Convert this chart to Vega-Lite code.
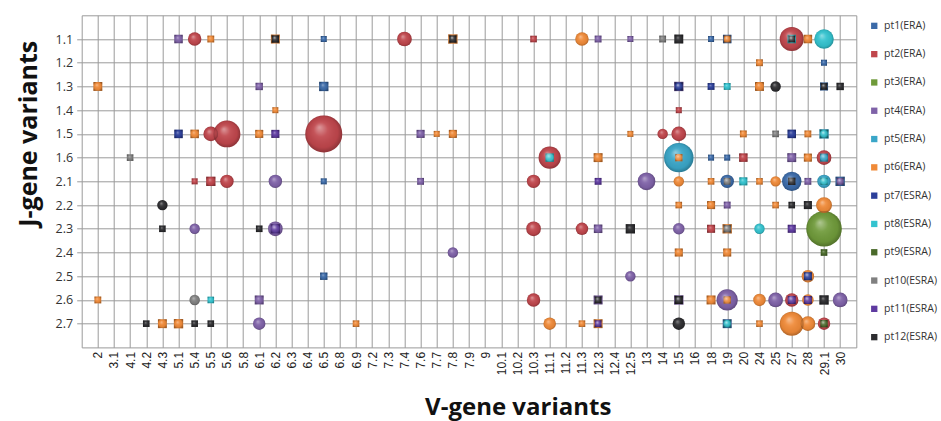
{
  "$schema": "https://vega.github.io/schema/vega-lite/v6.json",
  "width": 774.6,
  "height": 332.1,
  "autosize": {"type": "none"},
  "padding": {"left": 81.7, "top": 15.3, "right": 84.7, "bottom": 73.6},
  "background": "white",
  "config": {
    "view": {"stroke": "#9a9a9a", "strokeWidth": 1},
    "legend": {"title": null}
  },
  "data": {
    "values": [
      {"v":"6.5","j":"1.1","s":"pt1(ERA)","n":1},
      {"v":"6.5","j":"1.3","s":"pt1(ERA)","n":2.4},
      {"v":"6.5","j":"2.1","s":"pt1(ERA)","n":1},
      {"v":"6.5","j":"2.5","s":"pt1(ERA)","n":1.5},
      {"v":"18","j":"1.1","s":"pt1(ERA)","n":1},
      {"v":"19","j":"1.1","s":"pt1(ERA)","n":2},
      {"v":"29.1","j":"1.2","s":"pt1(ERA)","n":1},
      {"v":"29.1","j":"1.3","s":"pt1(ERA)","n":1.8},
      {"v":"18","j":"1.6","s":"pt1(ERA)","n":1},
      {"v":"19","j":"1.6","s":"pt1(ERA)","n":1},
      {"v":"19","j":"2.1","s":"pt1(ERA)","n":5},
      {"v":"27","j":"2.1","s":"pt1(ERA)","n":10.5},
      {"v":"30","j":"2.1","s":"pt1(ERA)","n":2.4},
      {"v":"19","j":"2.7","s":"pt1(ERA)","n":2.2},

      {"v":"5.4","j":"1.1","s":"pt2(ERA)","n":5},
      {"v":"7.4","j":"1.1","s":"pt2(ERA)","n":6},
      {"v":"10.3","j":"1.1","s":"pt2(ERA)","n":1.2},
      {"v":"27","j":"1.1","s":"pt2(ERA)","n":16},
      {"v":"5.5","j":"1.5","s":"pt2(ERA)","n":6},
      {"v":"5.6","j":"1.5","s":"pt2(ERA)","n":20},
      {"v":"6.5","j":"1.5","s":"pt2(ERA)","n":38},
      {"v":"14","j":"1.5","s":"pt2(ERA)","n":3},
      {"v":"15","j":"1.5","s":"pt2(ERA)","n":6},
      {"v":"15","j":"1.4","s":"pt2(ERA)","n":1},
      {"v":"11.1","j":"1.6","s":"pt2(ERA)","n":13.6},
      {"v":"20","j":"1.6","s":"pt2(ERA)","n":2},
      {"v":"29.1","j":"1.6","s":"pt2(ERA)","n":6},
      {"v":"5.4","j":"2.1","s":"pt2(ERA)","n":1},
      {"v":"5.5","j":"2.1","s":"pt2(ERA)","n":2.4},
      {"v":"5.6","j":"2.1","s":"pt2(ERA)","n":5},
      {"v":"10.3","j":"2.1","s":"pt2(ERA)","n":5},
      {"v":"10.3","j":"2.3","s":"pt2(ERA)","n":6},
      {"v":"11.3","j":"2.3","s":"pt2(ERA)","n":4.3},
      {"v":"18","j":"2.3","s":"pt2(ERA)","n":1.8},
      {"v":"10.3","j":"2.6","s":"pt2(ERA)","n":5},
      {"v":"27","j":"2.6","s":"pt2(ERA)","n":5},
      {"v":"29.1","j":"2.7","s":"pt2(ERA)","n":4.3},

      {"v":"29.1","j":"2.3","s":"pt3(ERA)","n":35},

      {"v":"5.1","j":"1.1","s":"pt4(ERA)","n":2},
      {"v":"12.3","j":"1.1","s":"pt4(ERA)","n":1.3},
      {"v":"12.5","j":"1.1","s":"pt4(ERA)","n":1},
      {"v":"6.1","j":"1.3","s":"pt4(ERA)","n":1.5},
      {"v":"15","j":"1.3","s":"pt4(ERA)","n":2.4},
      {"v":"7.6","j":"1.5","s":"pt4(ERA)","n":1.8},
      {"v":"27","j":"1.6","s":"pt4(ERA)","n":2.2},
      {"v":"6.2","j":"2.1","s":"pt4(ERA)","n":5},
      {"v":"7.6","j":"2.1","s":"pt4(ERA)","n":1.3},
      {"v":"13","j":"2.1","s":"pt4(ERA)","n":8.7},
      {"v":"28","j":"2.1","s":"pt4(ERA)","n":1.3},
      {"v":"30","j":"2.1","s":"pt4(ERA)","n":1.3},
      {"v":"19","j":"2.2","s":"pt4(ERA)","n":1.3},
      {"v":"5.4","j":"2.3","s":"pt4(ERA)","n":3},
      {"v":"6.2","j":"2.3","s":"pt4(ERA)","n":6},
      {"v":"12.3","j":"2.3","s":"pt4(ERA)","n":2},
      {"v":"15","j":"2.3","s":"pt4(ERA)","n":3.7},
      {"v":"7.8","j":"2.4","s":"pt4(ERA)","n":3},
      {"v":"12.5","j":"2.5","s":"pt4(ERA)","n":3},
      {"v":"6.1","j":"2.6","s":"pt4(ERA)","n":2.2},
      {"v":"12.3","j":"2.6","s":"pt4(ERA)","n":2.2},
      {"v":"15","j":"2.6","s":"pt4(ERA)","n":2.4},
      {"v":"19","j":"2.6","s":"pt4(ERA)","n":12.5},
      {"v":"25","j":"2.6","s":"pt4(ERA)","n":6},
      {"v":"30","j":"2.6","s":"pt4(ERA)","n":6},
      {"v":"6.1","j":"2.7","s":"pt4(ERA)","n":4.3},

      {"v":"15","j":"1.6","s":"pt5(ERA)","n":24},
      {"v":"29.1","j":"2.1","s":"pt5(ERA)","n":5},
      {"v":"29.1","j":"1.5","s":"pt5(ERA)","n":2.4},
      {"v":"29.1","j":"1.6","s":"pt5(ERA)","n":1.8},

      {"v":"5.5","j":"1.1","s":"pt6(ERA)","n":1.3},
      {"v":"6.2","j":"1.1","s":"pt6(ERA)","n":2.2},
      {"v":"7.8","j":"1.1","s":"pt6(ERA)","n":2.4},
      {"v":"11.3","j":"1.1","s":"pt6(ERA)","n":5},
      {"v":"19","j":"1.1","s":"pt6(ERA)","n":1.3},
      {"v":"28","j":"1.1","s":"pt6(ERA)","n":2},
      {"v":"24","j":"1.2","s":"pt6(ERA)","n":1.3},
      {"v":"2","j":"1.3","s":"pt6(ERA)","n":2.2},
      {"v":"24","j":"1.3","s":"pt6(ERA)","n":2.2},
      {"v":"6.2","j":"1.4","s":"pt6(ERA)","n":1},
      {"v":"5.4","j":"1.5","s":"pt6(ERA)","n":2},
      {"v":"6.1","j":"1.5","s":"pt6(ERA)","n":1.8},
      {"v":"7.7","j":"1.5","s":"pt6(ERA)","n":1},
      {"v":"7.8","j":"1.5","s":"pt6(ERA)","n":1.8},
      {"v":"12.5","j":"1.5","s":"pt6(ERA)","n":1},
      {"v":"20","j":"1.5","s":"pt6(ERA)","n":1.3},
      {"v":"28","j":"1.5","s":"pt6(ERA)","n":1.3},
      {"v":"12.3","j":"1.6","s":"pt6(ERA)","n":2.2},
      {"v":"15","j":"1.6","s":"pt6(ERA)","n":1.5},
      {"v":"28","j":"1.6","s":"pt6(ERA)","n":1.8},
      {"v":"15","j":"2.1","s":"pt6(ERA)","n":3},
      {"v":"18","j":"2.1","s":"pt6(ERA)","n":1.2},
      {"v":"24","j":"2.1","s":"pt6(ERA)","n":1.2},
      {"v":"25","j":"2.1","s":"pt6(ERA)","n":3},
      {"v":"15","j":"2.2","s":"pt6(ERA)","n":1.2},
      {"v":"18","j":"2.2","s":"pt6(ERA)","n":1.8},
      {"v":"25","j":"2.2","s":"pt6(ERA)","n":1.2},
      {"v":"29.1","j":"2.2","s":"pt6(ERA)","n":7},
      {"v":"19","j":"2.3","s":"pt6(ERA)","n":2.4},
      {"v":"15","j":"2.4","s":"pt6(ERA)","n":1.8},
      {"v":"19","j":"2.4","s":"pt6(ERA)","n":1.8},
      {"v":"28","j":"2.5","s":"pt6(ERA)","n":4.3},
      {"v":"2","j":"2.6","s":"pt6(ERA)","n":1.3},
      {"v":"18","j":"2.6","s":"pt6(ERA)","n":2.2},
      {"v":"19","j":"2.6","s":"pt6(ERA)","n":1.5},
      {"v":"24","j":"2.6","s":"pt6(ERA)","n":4.3},
      {"v":"28","j":"2.6","s":"pt6(ERA)","n":3.7},
      {"v":"4.3","j":"2.7","s":"pt6(ERA)","n":2.2},
      {"v":"5.1","j":"2.7","s":"pt6(ERA)","n":2.4},
      {"v":"6.9","j":"2.7","s":"pt6(ERA)","n":1.2},
      {"v":"11.1","j":"2.7","s":"pt6(ERA)","n":4.3},
      {"v":"11.3","j":"2.7","s":"pt6(ERA)","n":1.2},
      {"v":"12.3","j":"2.7","s":"pt6(ERA)","n":2.2},
      {"v":"24","j":"2.7","s":"pt6(ERA)","n":1.2},
      {"v":"27","j":"2.7","s":"pt6(ERA)","n":16},
      {"v":"28","j":"2.7","s":"pt6(ERA)","n":6},

      {"v":"5.1","j":"1.5","s":"pt7(ESRA)","n":2},
      {"v":"15","j":"1.3","s":"pt7(ESRA)","n":1.8},
      {"v":"18","j":"1.3","s":"pt7(ESRA)","n":1.3},
      {"v":"27","j":"1.5","s":"pt7(ESRA)","n":2},
      {"v":"28","j":"2.5","s":"pt7(ESRA)","n":1.8},

      {"v":"29.1","j":"1.1","s":"pt8(ESRA)","n":10.5},
      {"v":"27","j":"1.1","s":"pt8(ESRA)","n":2},
      {"v":"19","j":"1.3","s":"pt8(ESRA)","n":1.3},
      {"v":"29.1","j":"1.5","s":"pt8(ESRA)","n":1.8},
      {"v":"11.1","j":"1.6","s":"pt8(ESRA)","n":2},
      {"v":"20","j":"2.1","s":"pt8(ESRA)","n":1.8},
      {"v":"29.1","j":"2.1","s":"pt8(ESRA)","n":1.5},
      {"v":"24","j":"2.3","s":"pt8(ESRA)","n":3},
      {"v":"5.5","j":"2.6","s":"pt8(ESRA)","n":1.2},
      {"v":"19","j":"2.7","s":"pt8(ESRA)","n":1.5},

      {"v":"29.1","j":"2.4","s":"pt9(ESRA)","n":1.2},
      {"v":"29.1","j":"2.7","s":"pt9(ESRA)","n":1.5},

      {"v":"4.1","j":"1.6","s":"pt10(ESRA)","n":1.2},
      {"v":"14","j":"1.1","s":"pt10(ESRA)","n":1.3},
      {"v":"25","j":"1.5","s":"pt10(ESRA)","n":1.2},
      {"v":"19","j":"2.1","s":"pt10(ESRA)","n":1.3},
      {"v":"19","j":"2.3","s":"pt10(ESRA)","n":1.5},
      {"v":"5.4","j":"2.6","s":"pt10(ESRA)","n":3},

      {"v":"6.2","j":"1.5","s":"pt11(ESRA)","n":1.8},
      {"v":"12.3","j":"2.1","s":"pt11(ESRA)","n":1.3},
      {"v":"6.2","j":"2.3","s":"pt11(ESRA)","n":2.4},
      {"v":"27","j":"2.3","s":"pt11(ESRA)","n":1.8},
      {"v":"27","j":"2.6","s":"pt11(ESRA)","n":1.8},
      {"v":"28","j":"2.6","s":"pt11(ESRA)","n":1.8},
      {"v":"12.3","j":"2.7","s":"pt11(ESRA)","n":1.3},

      {"v":"6.2","j":"1.1","s":"pt12(ESRA)","n":1.5},
      {"v":"7.8","j":"1.1","s":"pt12(ESRA)","n":1.5},
      {"v":"15","j":"1.1","s":"pt12(ESRA)","n":2.2},
      {"v":"27","j":"1.1","s":"pt12(ESRA)","n":1.2},
      {"v":"25","j":"1.3","s":"pt12(ESRA)","n":3},
      {"v":"29.1","j":"1.3","s":"pt12(ESRA)","n":1.2},
      {"v":"30","j":"1.3","s":"pt12(ESRA)","n":1.5},
      {"v":"27","j":"2.1","s":"pt12(ESRA)","n":1.5},
      {"v":"27","j":"2.2","s":"pt12(ESRA)","n":1.2},
      {"v":"28","j":"2.2","s":"pt12(ESRA)","n":1.8},
      {"v":"4.3","j":"2.2","s":"pt12(ESRA)","n":3},
      {"v":"4.3","j":"2.3","s":"pt12(ESRA)","n":1.2},
      {"v":"6.1","j":"2.3","s":"pt12(ESRA)","n":1.2},
      {"v":"12.5","j":"2.3","s":"pt12(ESRA)","n":2.4},
      {"v":"15","j":"2.6","s":"pt12(ESRA)","n":1.8},
      {"v":"29.1","j":"2.6","s":"pt12(ESRA)","n":2.4},
      {"v":"12.3","j":"2.6","s":"pt12(ESRA)","n":1.3},
      {"v":"4.2","j":"2.7","s":"pt12(ESRA)","n":1.2},
      {"v":"5.4","j":"2.7","s":"pt12(ESRA)","n":1.2},
      {"v":"5.5","j":"2.7","s":"pt12(ESRA)","n":1.2},
      {"v":"15","j":"2.7","s":"pt12(ESRA)","n":4.3}
    ]
  },
  "encoding": {
    "x": {
      "field": "v", "type": "nominal",
      "scale": {"type": "point", "padding": 1, "domain": ["2","3.1","4.1","4.2","4.3","5.1","5.4","5.5","5.6","5.8","6.1","6.2","6.3","6.4","6.5","6.8","6.9","7.2","7.3","7.4","7.6","7.7","7.8","7.9","9","10.1","10.2","10.3","11.1","11.2","11.3","12.3","12.4","12.5","13","14","15","16","18","19","20","24","25","27","28","29.1","30"]},
      "axis": {
        "title": "V-gene variants", "titleFont": "Open Sans", "titleFontWeight": "bold", "titleFontSize": 24, "titleColor": "#111",
        "titleX": 436, "titleY": 48, "titleBaseline": "top", "titleAlign": "center", "titleAnchor": "middle",
        "labelAngle": -90, "labelFont": "Liberation Sans", "labelFontSize": 12, "labelColor": "#222", "labelPadding": 4,
        "ticks": false, "domain": false, "grid": true, "gridColor": "#9a9a9a", "gridWidth": 1, "labelOverlap": false
      }
    },
    "y": {
      "field": "j", "type": "nominal",
      "scale": {"type": "point", "padding": 1, "domain": ["1.1","1.2","1.3","1.4","1.5","1.6","2.1","2.2","2.3","2.4","2.5","2.6","2.7"]},
      "axis": {
        "title": "J-gene variants", "titleFont": "Open Sans", "titleFontWeight": "bold", "titleFontSize": 25, "titleColor": "#111",
        "titleX": -53, "titleY": 118, "titleBaseline": "middle", "titleAlign": "center", "titleAngle": -90,
        "labelFont": "Open Sans", "labelFontSize": 12.5, "labelColor": "#333", "labelPadding": 4,
        "ticks": true, "tickSize": 5, "tickColor": "#9a9a9a", "domain": false, "grid": true, "gridColor": "#9a9a9a", "gridWidth": 1
      }
    },
    "size": {"field": "n", "type": "quantitative", "scale": {"type": "linear", "domain": [0, 40], "range": [0, 1440]}, "legend": null},
    "shape": {"condition": {"test": "datum.n < 2.5", "value": "square"}, "value": "circle"}
  },
  "layer": [
    {
      "mark": {"type": "point", "filled": true, "opacity": 1, "strokeWidth": 0},
      "encoding": {
        "color": {
          "field": "s", "type": "nominal",
          "scale": {
            "domain": ["pt1(ERA)","pt2(ERA)","pt3(ERA)","pt4(ERA)","pt5(ERA)","pt6(ERA)","pt7(ESRA)","pt8(ESRA)","pt9(ESRA)","pt10(ESRA)","pt11(ESRA)","pt12(ESRA)"],
            "range": ["#3b6aa8","#c0464c","#6f9a3a","#7f62a8","#3aa6c8","#f08a38","#2c3f9a","#33c3cf","#4a6a2a","#808080","#5e3aa0","#2d2d30"]
          },
          "legend": {
            "orient": "right", "offset": 7, "padding": 5.3,
            "symbolType": "square", "symbolSize": 40, "symbolStrokeWidth": 0,
            "labelFont": "Open Sans", "labelFontSize": 10.5, "labelColor": "#333", "labelOffset": 4.5,
            "rowPadding": 17.3
          }
        }
      }
    },
    {
      "mark": {
        "type": "point", "filled": true, "opacity": 1, "strokeWidth": 0,
        "fill": {
          "gradient": "radial", "x1": 0.38, "y1": 0.32, "r1": 0, "x2": 0.5, "y2": 0.5, "r2": 0.55,
          "stops": [
            {"offset": 0, "color": "rgba(255,255,255,0.45)"},
            {"offset": 0.35, "color": "rgba(255,255,255,0.08)"},
            {"offset": 0.75, "color": "rgba(0,0,0,0.05)"},
            {"offset": 1, "color": "rgba(0,0,0,0.35)"}
          ]
        }
      }
    }
  ]
}
